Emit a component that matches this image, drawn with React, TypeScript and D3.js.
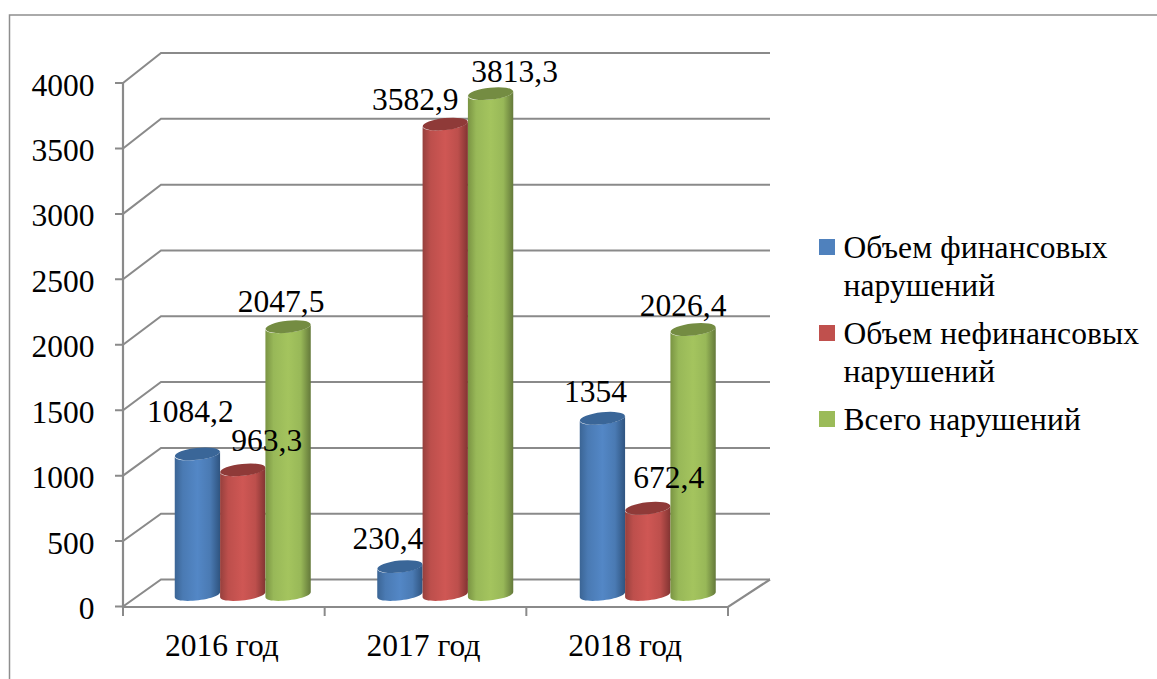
import React from "react";
import * as d3 from "d3";

const categories = ["2016 год", "2017 год", "2018 год"];
const seriesNames = ["Объем финансовых", "Объем нефинансовых", "Всего нарушений"];
const financial = [1084.2, 230.4, 1354];
const nonFinancial = [963.3, 3582.9, 672.4];
const total = [2047.5, 3813.3, 2026.4];
const valueLabels = [
  ["1084,2", "230,4", "1354"],
  ["963,3", "3582,9", "672,4"],
  ["2047,5", "3813,3", "2026,4"],
];
const yTicks = [0, 500, 1000, 1500, 2000, 2500, 3000, 3500, 4000];
const legendLines = [
  ["Объем финансовых", "нарушений"],
  ["Объем нефинансовых", "нарушений"],
  ["Всего нарушений"],
];

const seriesValues = [financial, nonFinancial, total];
const palette = [
  { edgeL: "#3b6595", mid: "#4a7ab3", light: "#5387c6", edgeR: "#2f5480", top: "#3a6698" },
  { edgeL: "#96403d", mid: "#bd4f4c", light: "#cf5754", edgeR: "#823432", top: "#8f3a38" },
  { edgeL: "#7a9443", mid: "#98b858", light: "#a4c45e", edgeR: "#64793a", top: "#748c42" },
];
// label nudges from bar centre / bar top, [series][category]
const labelDx = [[-7, -12, -7], [24, -30, 21], [-7, 24, -10]];
const labelDy = [[-32, -18, -16], [-19, -14, -20], [-15, -12, -14]];

const FONT = "'Liberation Serif', 'Times New Roman', serif";
const GRID = "#8a8a8a";
const FS = 31.5;

export default function App() {
  const yFront = d3.scaleLinear().domain([0, 4000]).range([606.5, 83]);
  const yBack = d3.scaleLinear().domain([0, 4000]).range([579.5, 53]);
  const yBar = d3.scaleLinear().domain([0, 4000]).range([597, 69]);
  const xFront = d3.scaleBand().domain(categories).range([123, 728]);
  const xBars = d3.scaleBand().domain(categories).range([141.5, 749]);
  const xSeries = d3.scaleBand().domain(["0", "1", "2"]).range([-68, 68]);

  const cyl = (x: number, w: number, top: number, bottom: number) => {
    const rx = w / 2;
    const ry = 6;
    const tilt = 2.5;
    const p = d3.path();
    p.moveTo(x, top + tilt);
    p.bezierCurveTo(x, top + tilt + ry * 1.3, x + w, top - tilt + ry * 1.3, x + w, top - tilt);
    p.lineTo(x + w, bottom - tilt);
    p.bezierCurveTo(x + w, bottom - tilt + ry * 1.3, x, bottom + tilt + ry * 1.3, x, bottom + tilt);
    p.closePath();
    return { body: p.toString(), rx, ry };
  };

  return (
    <svg
      width={1157}
      height={679}
      style={{ position: "fixed", left: 0, top: 0, background: "#fff" }}
      fontFamily={FONT}
    >
      <defs>
        {palette.map((c, i) => (
          <linearGradient key={i} id={`g${i}`} x1="0" x2="1" y1="0" y2="0">
            <stop offset="0" stopColor={c.edgeL} />
            <stop offset="0.18" stopColor={c.mid} />
            <stop offset="0.5" stopColor={c.light} />
            <stop offset="0.78" stopColor={c.mid} />
            <stop offset="1" stopColor={c.edgeR} />
          </linearGradient>
        ))}
      </defs>

      <path d="M1157,15 H9.5 V679" fill="none" stroke="#8e8e8e" strokeWidth={1.5} />

      {yTicks.map((t) => (
        <g key={t} stroke={GRID} strokeWidth={2} fill="none">
          <path d={`M115,${yFront(t)} H123 L161,${yBack(t)} H770`} />
        </g>
      ))}
      <path d="M123,83 V607 H728 L770,579.5" fill="none" stroke={GRID} strokeWidth={2.2} />
      {[...categories.map((c) => xFront(c)!), 728].map((x, i) => (
        <line key={i} x1={x} x2={x} y1={607} y2={616} stroke={GRID} strokeWidth={2} />
      ))}

      {yTicks.map((t) => (
        <text key={t} x={94.5} y={yFront(t) + 12.5} textAnchor="end" fontSize={FS} fill="#000">
          {t}
        </text>
      ))}
      {categories.map((c) => (
        <text
          key={c}
          x={xFront(c)! + xFront.bandwidth() / 2 - 2}
          y={656}
          textAnchor="middle"
          fontSize={FS}
          fill="#000"
        >
          {c}
        </text>
      ))}

      {categories.map((c, ci) => (
        <g key={c}>
          {seriesValues.map((vals, si) => {
            const w = xSeries.bandwidth();
            const x = xBars(c)! + xBars.bandwidth() / 2 + xSeries(String(si))!;
            const top = yBar(vals[ci]);
            const { body, rx, ry } = cyl(x, w, top, yBar(0) - 2.5);
            return (
              <g key={si}>
                <path d={body} fill={`url(#g${si})`} />
                <ellipse
                  cx={x + rx}
                  cy={top}
                  rx={rx}
                  ry={ry}
                  transform={`rotate(-6 ${x + rx} ${top})`}
                  fill={palette[si].top}
                />
              </g>
            );
          })}
        </g>
      ))}

      {categories.map((c, ci) =>
        seriesValues.map((vals, si) => {
          const x = xBars(c)! + xBars.bandwidth() / 2 + xSeries(String(si))! + xSeries.bandwidth() / 2;
          return (
            <text
              key={`${ci}-${si}`}
              x={x + labelDx[si][ci]}
              y={yBar(vals[ci]) + labelDy[si][ci]}
              textAnchor="middle"
              fontSize={FS}
              fill="#000"
            >
              {valueLabels[si][ci]}
            </text>
          );
        })
      )}

      {seriesNames.map((s, i) => {
        const squareY = [239, 325, 411][i];
        return (
          <g key={s}>
            <rect x={819} y={squareY} width={16} height={16} fill={["#4f81bd", "#c0504d", "#9bbb59"][i]} />
            {legendLines[i].map((line, li) => (
              <text key={li} x={843.5} y={squareY + 19 + li * 38} fontSize={FS} fill="#000" letterSpacing={0.1}>
                {line}
              </text>
            ))}
          </g>
        );
      })}
    </svg>
  );
}
